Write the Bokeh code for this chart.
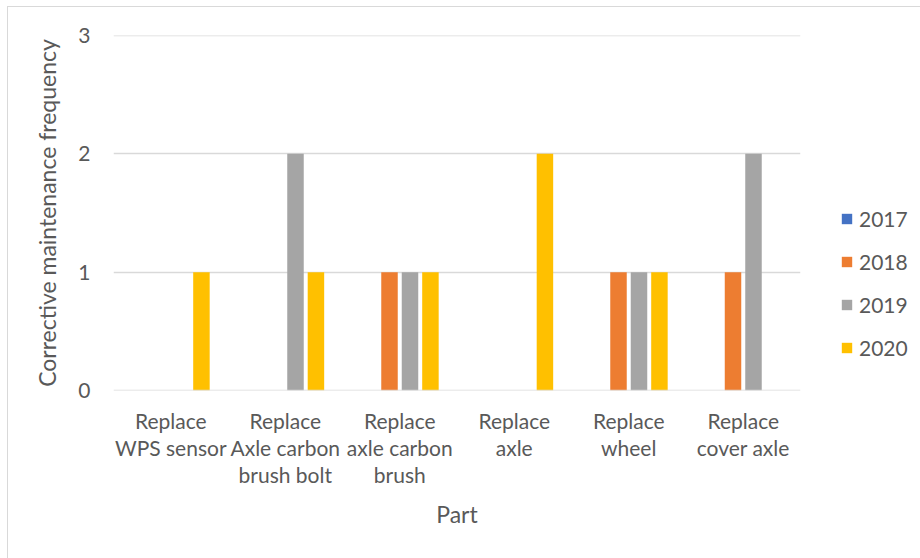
from bokeh.plotting import figure
from bokeh.models import FactorRange, Range1d, Legend, LegendItem, ColumnDataSource, FixedTicker, Span
from bokeh.transform import dodge
from bokeh.embed import file_html
from bokeh.resources import INLINE

parts = ["Replace\nWPS sensor", "Replace\nAxle carbon\nbrush bolt", "Replace\naxle carbon\nbrush",
         "Replace\naxle", "Replace\nwheel", "Replace\ncover axle"]
years = ["2017", "2018", "2019", "2020"]
v2017 = [0, 0, 0, 0, 0, 0]
v2018 = [0, 0, 1, 0, 1, 1]
v2019 = [0, 2, 1, 0, 1, 2]
v2020 = [1, 1, 1, 2, 1, 0]
y_ticks = [0, 1, 2, 3]
colors = ["#4472C4", "#ED7D31", "#A5A5A5", "#FFC000"]

FONT = "Lato"
TXT = "#595959"
GRID = "#d9d9d9"

src = ColumnDataSource(dict(parts=parts, y2017=v2017, y2018=v2018, y2019=v2019, y2020=v2020))

p = figure(frame_width=687, frame_height=355, x_range=FactorRange(*parts),
           y_range=Range1d(y_ticks[0], y_ticks[-1]),
           output_backend="svg", toolbar_location=None,
           min_border_left=105, min_border_right=0, min_border_top=28, min_border_bottom=169)
p.margin = (6, 0, 0, 7)
p.styles = {"border-top": "1px solid #d9d9d9", "border-left": "1px solid #d9d9d9"}
p.outline_line_color = None

# edge gridlines (grid skips range bounds)
for t in (y_ticks[0], y_ticks[-1]):
    p.add_layout(Span(location=t, dimension="width", line_color=GRID, line_width=1.5))

offsets = [-0.268, -0.0895, 0.0895, 0.268]
renderers = []
for yr, off, c in zip(years, offsets, colors):
    r = p.vbar(x=dodge("parts", off, range=p.x_range), top="y" + yr, width=0.144, source=src,
               fill_color=c, line_color=None)
    renderers.append(r)

legend = Legend(items=[LegendItem(label=yr, renderers=[r]) for yr, r in zip(years, renderers)],
                location=(40, 30), orientation="vertical", padding=0, margin=0,
                spacing=18, glyph_width=13, glyph_height=13, label_height=20,
                label_standoff=6, border_line_color=None, background_fill_alpha=0,
                label_text_font=FONT, label_text_font_size="21px", label_text_color=TXT)
p.add_layout(legend, "right")

p.xgrid.grid_line_color = None
p.ygrid.grid_line_color = GRID
p.ygrid.grid_line_width = 1.5
p.yaxis.ticker = FixedTicker(ticks=y_ticks)

for ax in (p.xaxis[0], p.yaxis[0]):
    ax.axis_line_color = None
    ax.major_tick_line_color = None
    ax.minor_tick_line_color = None
    ax.major_label_text_font = FONT
    ax.major_label_text_font_size = "21px"
    ax.major_label_text_color = TXT
    ax.axis_label_text_font = FONT
    ax.axis_label_text_font_size = "23px"
    ax.axis_label_text_color = TXT
    ax.axis_label_text_font_style = "normal"

p.yaxis.axis_label = "Corrective maintenance frequency"
p.yaxis.major_label_standoff = 17
p.yaxis.axis_label_standoff = 14
p.xaxis.axis_label = "Part"
p.xaxis.major_label_standoff = 11
p.xaxis.major_label_text_line_height = 1.08
p.xaxis.axis_label_standoff = 10

open("out.html", "w").write(file_html(p, INLINE))
